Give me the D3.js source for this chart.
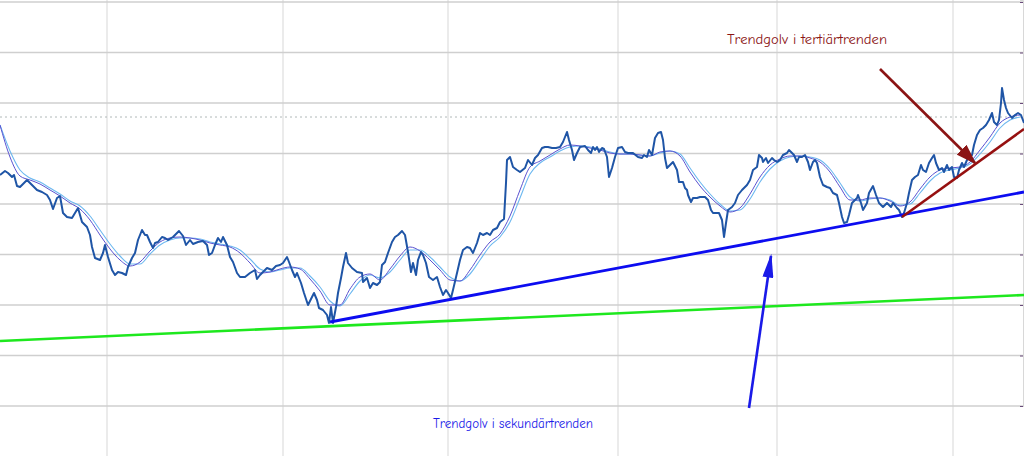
<!DOCTYPE html>
<html>
<head>
    <meta charset="UTF-8">
    <title>Trendgolv</title>
    <script src="https://cdn.jsdelivr.net/npm/d3@7"></script>
    <style>
        body { margin: 0; background: #fff; }
        .note { font-family: "Comic Sans MS", "Comic Neue", "DejaVu Sans", sans-serif; font-size: 13px; }
    </style>
</head>
<body>
<script>

    var width = 1024,
        height = 456;

    // kurs: [dag, pris]
    var price = [
        [0,231],[5,235],[8,233],[12,229],[14,231],[17,220],[20,219],[23,222],[27,226],[32,221],[37,216],[42,214],[47,211],[50,206],[53,197],[57,208],[60,210],[63,193],[67,189],[72,188],[75,193],[78,198],[82,184],[87,179],[90,171],[92,159],[95,148],[100,146],[103,153],[105,161],[108,149],[112,136],[115,131],[118,134],[122,133],[126,131],[128,139],[132,148],[135,153],[138,166],[142,176],[145,171],[147,171],[150,164],[153,158],[155,163],[158,164],[162,169],[165,168],[168,166],
        [173,169],[179,175],[183,170],[186,161],[190,166],[193,162],[198,164],[203,165],[207,161],[209,151],[212,153],[215,161],[218,168],[221,164],[223,169],[227,161],[230,149],[233,144],[237,133],[240,129],[245,129],[250,133],[255,136],[257,127],[260,131],[263,134],[267,138],[272,136],[276,140],[280,141],[283,143],[287,149],[289,144],[292,136],[295,129],[297,133],[301,123],[304,113],[308,101],[312,109],[314,113],[317,106],[319,98],[323,96],[327,91],[329,83],[331,99],[333,83],[336,99],[338,113],
        [341,128],[343,139],[346,153],[348,143],[352,138],[357,134],[362,133],[363,124],[367,128],[370,118],[373,123],[377,121],[380,124],[382,141],[385,144],[388,153],[392,164],[395,169],[398,171],[402,175],[405,171],[408,154],[411,134],[413,143],[416,131],[418,146],[421,154],[423,151],[426,143],[429,129],[433,126],[437,129],[440,119],[443,111],[446,116],[448,113],[451,108],[453,116],[457,133],[460,146],[463,156],[467,159],[470,158],[473,153],[477,163],[480,173],[483,171],[487,173],[490,171],[493,176],[497,178],[500,184],[504,187],[506,223],[507,246],[510,249],
        [513,239],[517,236],[520,234],[525,238],[528,246],[532,241],[535,248],[538,251],[542,258],[545,259],[548,259],[552,258],[556,258],[560,259],[563,264],[565,269],[567,274],[569,266],[572,256],[574,246],[577,253],[580,259],[585,260],[588,256],[591,253],[593,259],[595,256],[597,259],[599,254],[602,258],[604,257],[607,249],[609,229],[612,238],[615,249],[618,258],[622,259],[625,254],[628,253],[633,253],[638,249],[642,248],[644,251],[647,249],[649,256],[652,251],[655,268],[658,273],[661,274],[663,266],[665,248],[667,238],[670,241],[673,244],[677,236],[679,224],
        [683,224],[685,218],[687,216],[688,211],[691,204],[693,208],[697,208],[700,209],[705,209],[708,206],[711,196],[713,193],[717,193],[719,193],[722,186],[724,169],[726,183],[728,196],[732,199],[735,203],[738,211],[742,216],[747,221],[750,226],[753,236],[757,239],[759,251],[762,248],[763,244],[766,248],[768,243],[772,248],[774,246],[777,244],[780,246],[783,251],[787,253],[789,256],[792,253],[794,251],[797,244],[799,249],[802,249],[805,251],[808,244],[810,236],[813,244],[815,246],[817,243],[820,229],[823,221],[827,219],[830,218],[833,213],[837,211],[839,203],[842,189],[844,183],[847,184],[849,191],
        [852,203],[857,208],[858,211],[861,203],[863,196],[867,203],[869,213],[873,220],[876,211],[879,203],[883,199],[887,203],[891,199],[893,203],[897,198],[899,196],[902,189],[904,193],[907,203],[909,213],[912,226],[915,229],[918,231],[921,241],[923,236],[926,234],[929,243],[932,248],[934,251],[936,243],[939,236],[942,238],[944,234],[947,241],[949,236],[952,239],[954,229],[957,228],[959,236],[962,243],[964,239],[967,246],[969,248],[972,251],[974,261],[977,271],[980,276],[983,278],[986,281],[989,286],[992,293],[994,284],[997,281],[999,286],[1001,303],[1002,318],[1004,306],[1006,298],[1008,293],[1012,288],[1015,291],[1018,293],[1021,291],[1024,283]
    ];

    // glidande medelvärden, en punkt var 10:e dag
    var maDays = d3.range(0, 1021, 10);
    var maFast = [281,249,230,226,222,216,210,203,197,186, 171,157,146,140,144,155,164,168,169,168,
                  166,163,161,159,153,143,133,134,137,139, 137,127,115,101,101,117,129,132,126,137,
                  150,159,155,146,136,126,125,136,151,164, 172,190,216,239,245,251,257,261,260,258,
                  256,253,252,252,251,250,254,255,250,234, 220,209,200,194,198,212,229,241,247,250,
                  250,248,244,234,219,206,206,208,208,205, 200,204,217,229,236,238,239,244,256,269,
                  283,289,291];
    var maSlow = [281,255,236,228,224,218,212,205,200,190, 176,162,150,142,142,152,161,166,168,168,
                  167,164,162,160,156,147,137,134,136,138, 138,130,119,105,100,112,125,131,128,134,
                  146,156,156,149,139,129,125,132,146,160, 169,184,208,232,243,249,255,259,260,259,
                  257,254,252,252,251,250,253,255,252,238, 224,212,202,195,196,207,224,237,245,249,
                  250,249,246,237,223,209,205,207,208,206, 201,202,213,225,233,236,238,242,252,264,
                  278,286,289];

    // trendgolv
    var primaryFloor = [[0,65],[1024,111]];
    var secondaryFloor = [[330,84],[1024,214]];
    var tertiaryFloor = [[902,189],[1024,277]];

    var gridLevels = [0,50.5,101,151.5,202,252.5,303,353.5,404];
    var gridDays = [107,283,448,618,777,953];
    var refLevel = 289;

    var notes = [
        {text: "Trendgolv i tertiärtrenden", at: [727,362], arrow: [[880,337],[975,243]], color: "#8b1414", head: [21, 14]},
        {text: "Trendgolv i sekundärtrenden", at: [433,-22], arrow: [[749,-2],[771,150]], color: "#1a1ae8", head: [24, 11]}
    ];

    var x = d3.scaleLinear().domain([0, 1024]).range([0, width]);
    var y = d3.scaleLinear().domain([0, 406]).range([406, 0]);

    var svg = d3.select("body").append("svg")
        .attr("width", width)
        .attr("height", height);

    svg.append("rect").attr("width", width).attr("height", height).style("fill", "#fff");

    // pilspetsar
    var defs = svg.append("defs");
    notes.forEach(function(n, i) {
        defs.append("marker")
            .attr("id", "head" + i)
            .attr("viewBox", "0 0 10 10")
            .attr("preserveAspectRatio", "none")
            .attr("refX", 9).attr("refY", 5)
            .attr("markerUnits", "userSpaceOnUse")
            .attr("markerWidth", n.head[0])
            .attr("markerHeight", n.head[1])
            .attr("orient", "auto")
            .append("path")
            .attr("d", "M0,0L10,5L0,10z")
            .style("fill", n.color);
    });

    // rutnät
    svg.append("g").selectAll("line").data(gridDays).enter().append("line")
        .attr("x1", d => x(d)).attr("x2", d => x(d))
        .attr("y1", 0).attr("y2", height)
        .style("stroke", "#dedede").style("stroke-width", 1.2);

    svg.append("g").selectAll("line").data(gridLevels).enter().append("line")
        .attr("x1", 0).attr("x2", width)
        .attr("y1", d => y(d)).attr("y2", d => y(d))
        .style("stroke", "#cfcfcf").style("stroke-width", 1.4);

    svg.append("line")
        .attr("x1", 0).attr("x2", width)
        .attr("y1", y(refLevel)).attr("y2", y(refLevel))
        .style("stroke", "#b0b8b8").style("stroke-dasharray", "2,3");

    var axis = svg.append("g")
        .attr("transform", "translate(" + (width - 1) + ",0)")
        .call(d3.axisLeft(y).tickValues(gridLevels).tickSize(3).tickFormat(""));
    axis.select(".domain").style("stroke", "#d8d8d8");
    axis.selectAll(".tick line").style("stroke", "#6a4a7a");

    var line = d3.line().x(d => x(d[0])).y(d => y(d[1]));

    // trendlinjer
    svg.append("path").datum(primaryFloor).attr("d", line)
        .style("fill", "none").style("stroke", "#1ee81e").style("stroke-width", 2.6);

    // medelvärden
    svg.append("path").datum(maDays.map((d, i) => [d, maSlow[i]])).attr("d", line.curve(d3.curveMonotoneX))
        .style("fill", "none").style("stroke", "#6cb8f0").style("stroke-width", 1.1);
    svg.append("path").datum(maDays.map((d, i) => [d, maFast[i]])).attr("d", line)
        .style("fill", "none").style("stroke", "#5a52d0").style("stroke-width", 1);
    line.curve(d3.curveLinear);

    // kurs
    svg.append("path").datum(price).attr("d", line)
        .style("fill", "none").style("stroke", "#1f55a6").style("stroke-width", 2)
        .style("stroke-linejoin", "round");

    svg.append("path").datum(secondaryFloor).attr("d", line)
        .style("fill", "none").style("stroke", "#0c0cf0").style("stroke-width", 2.8);
    svg.append("path").datum(tertiaryFloor).attr("d", line)
        .style("fill", "none").style("stroke", "#961010").style("stroke-width", 2.6);

    // kommentarer
    notes.forEach(function(n, i) {
        svg.append("line")
            .attr("x1", x(n.arrow[0][0])).attr("y1", y(n.arrow[0][1]))
            .attr("x2", x(n.arrow[1][0])).attr("y2", y(n.arrow[1][1]))
            .style("stroke", n.color).style("stroke-width", 2.6)
            .attr("marker-end", "url(#head" + i + ")");
        svg.append("text")
            .attr("class", "note")
            .attr("x", x(n.at[0])).attr("y", y(n.at[1]))
            .attr("textLength", 160)
            .attr("lengthAdjust", "spacingAndGlyphs")
            .style("fill", n.color)
            .text(n.text);
    });

</script>
</body>
</html>
